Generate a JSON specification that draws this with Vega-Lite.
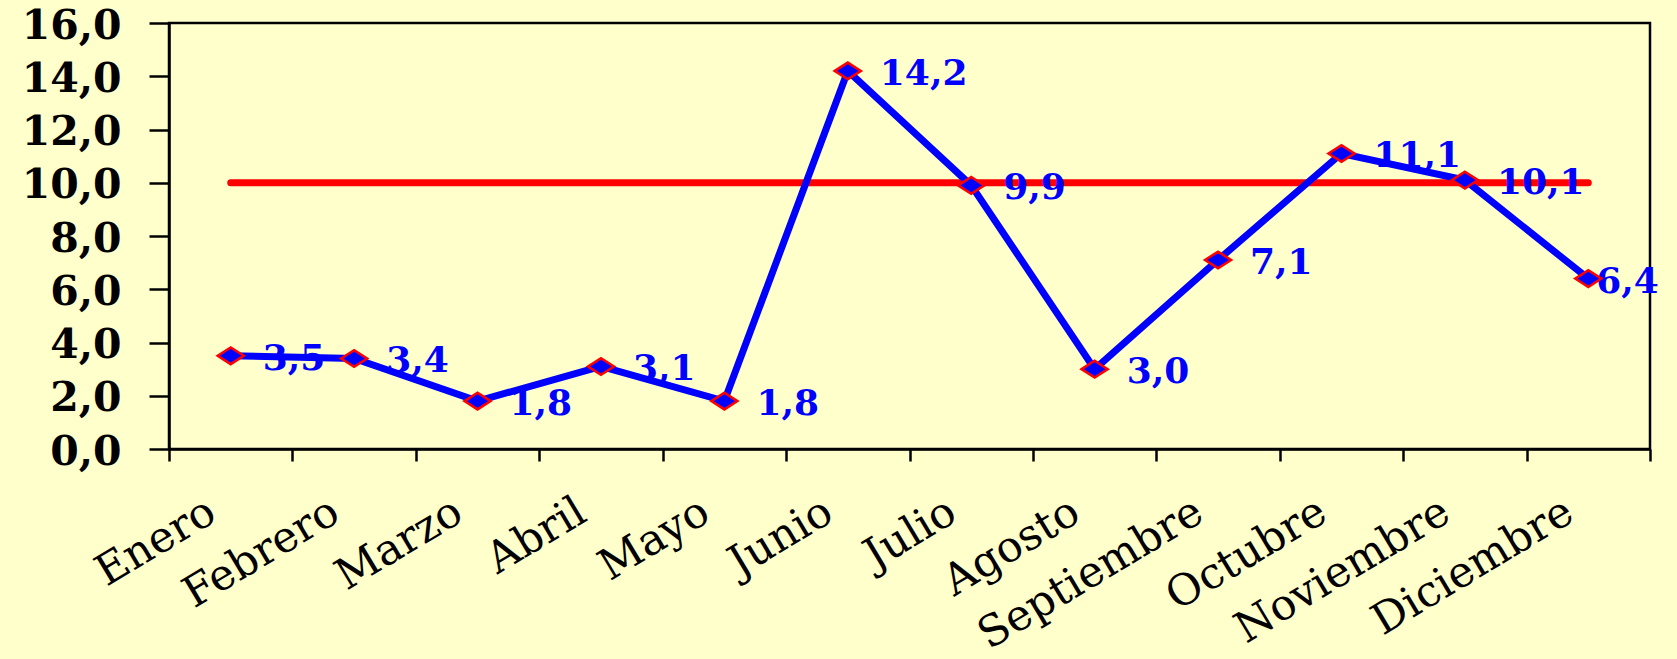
{
  "$schema": "https://vega.github.io/schema/vega-lite/v6.json",
  "width": 1481,
  "height": 426,
  "autosize": {"type": "none"},
  "padding": {"left": 169, "top": 23, "right": 27, "bottom": 210},
  "background": "#FFFFCC",
  "config": {
    "locale": {"number": {"decimal": ",", "thousands": ".", "grouping": [3], "currency": ["", " €"]}},
    "view": {"fill": "#FFFFCC", "stroke": "#000000", "strokeWidth": 2.5},
    "axis": {"domainColor": "#000000", "tickColor": "#000000", "domainWidth": 2.5, "tickWidth": 2.5, "grid": false, "title": null, "labelColor": "#000000", "labelLimit": 0}
  },
  "data": {
    "values": [
      {"mes": "Enero", "valor": 3.5, "meta": 10},
      {"mes": "Febrero", "valor": 3.4, "meta": 10},
      {"mes": "Marzo", "valor": 1.8, "meta": 10},
      {"mes": "Abril", "valor": 3.1, "meta": 10},
      {"mes": "Mayo", "valor": 1.8, "meta": 10},
      {"mes": "Junio", "valor": 14.2, "meta": 10},
      {"mes": "Julio", "valor": 9.9, "meta": 10},
      {"mes": "Agosto", "valor": 3.0, "meta": 10},
      {"mes": "Septiembre", "valor": 7.1, "meta": 10},
      {"mes": "Octubre", "valor": 11.1, "meta": 10},
      {"mes": "Noviembre", "valor": 10.1, "meta": 10},
      {"mes": "Diciembre", "valor": 6.4, "meta": 10}
    ]
  },
  "encoding": {
    "x": {
      "field": "mes", "type": "ordinal", "sort": null,
      "scale": {"paddingInner": 0, "paddingOuter": 0},
      "axis": {
        "labelAngle": -31, "labelAlign": "right", "labelBaseline": "top",
        "labelFont": "DejaVu Serif", "labelFontSize": 43, "labelFontWeight": "normal",
        "tickBand": "extent", "tickSize": 12, "labelPadding": 29, "labelOffset": -30
      }
    }
  },
  "layer": [
    {
      "mark": {"type": "line", "color": "#FF0000", "strokeWidth": 7, "strokeCap": "round"},
      "encoding": {
        "y": {
          "field": "meta", "type": "quantitative",
          "scale": {"domain": [0, 16], "nice": false},
          "axis": {
            "values": [0, 2, 4, 6, 8, 10, 12, 14, 16], "format": ".1f",
            "labelFont": "DejaVu Serif", "labelFontSize": 41, "labelFontWeight": "bold",
            "tickSize": 20, "labelPadding": 28, "labelOffset": 3
          }
        }
      }
    },
    {
      "mark": {"type": "text", "color": "#0000FF", "font": "DejaVu Serif", "fontWeight": "bold", "fontSize": 36, "align": "left", "baseline": "alphabetic", "dx": {"expr": "datum.mes === 'Diciembre' ? 8 : 32"}, "dy": 14},
      "encoding": {
        "y": {"field": "valor", "type": "quantitative"},
        "text": {"field": "valor", "type": "quantitative", "format": ".1f"}
      }
    },
    {
      "mark": {"type": "line", "color": "#0000FF", "strokeWidth": 7},
      "encoding": {"y": {"field": "valor", "type": "quantitative"}}
    },
    {
      "mark": {"type": "point", "shape": "M-1,0L0,-0.64L1,0L0,0.64Z", "size": 680, "filled": true, "fill": "#0000FF", "stroke": "#FF0000", "strokeWidth": 2.5, "opacity": 1},
      "encoding": {"y": {"field": "valor", "type": "quantitative"}}
    }
  ]
}
